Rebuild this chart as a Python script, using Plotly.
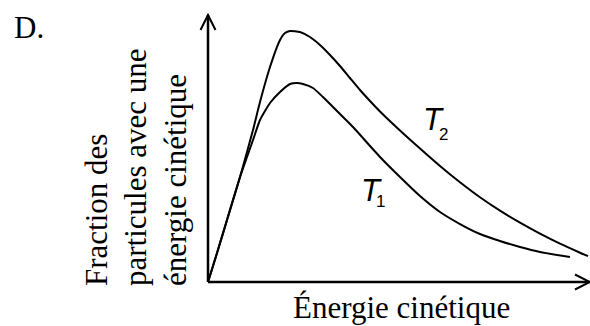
import plotly.graph_objects as go

# Kinetic energy (arbitrary units) and fraction of particles (arbitrary units)
energy_T2 = [0, 0.236, 0.497, 0.838, 1.178, 1.361, 1.623, 1.885, 2.016, 2.147, 2.408,
             2.670, 2.932, 3.194, 3.455, 3.717, 3.979, 4.241, 4.503, 5.026, 5.550,
             6.073, 6.597, 7.120, 7.644, 8.168, 8.691, 9.215, 9.738, 9.948]
frac_T2 = [0, 1.086, 2.322, 3.933, 5.693, 6.742, 8.052, 9.064, 9.326, 9.401, 9.363,
           9.176, 8.876, 8.502, 8.090, 7.640, 7.191, 6.779, 6.386, 5.674, 4.999,
           4.345, 3.734, 3.172, 2.670, 2.221, 1.809, 1.434, 1.097, 0.970]

energy_T1 = [0, 0.236, 0.497, 0.838, 1.021, 1.178, 1.361, 1.623, 1.885, 2.147, 2.330,
             2.487, 2.749, 3.010, 3.272, 3.534, 3.796, 4.503, 5.026, 5.550, 6.073,
             6.597, 7.120, 7.644, 8.168, 8.691, 9.476]
frac_T1 = [0, 1.086, 2.322, 3.933, 4.682, 5.318, 6.067, 6.704, 7.116, 7.416, 7.453,
           7.416, 7.266, 6.929, 6.554, 6.180, 5.805, 4.682, 3.933, 3.221, 2.622,
           2.172, 1.798, 1.536, 1.311, 1.124, 0.936]

x_title = "Énergie cinétique"
y_title_lines = ["Fraction des", "particules avec une", "énergie cinétique"]
panel_label = "D."

W, H = 590, 326
ML, MR, MT, MB = 208, 0, 15, 44
PW, PH = W - ML - MR, H - MT - MB


def px(xp):
    return (xp - ML) / PW


def py(yp):
    return (H - MB - yp) / PH


SERIF = "Liberation Serif"
SANS = "Liberation Sans"

fig = go.Figure()
for xs, ys in [(energy_T2, frac_T2), (energy_T1, frac_T1)]:
    fig.add_trace(go.Scatter(x=xs, y=ys, mode="lines",
                             line=dict(color="black", width=2, shape="spline", smoothing=0.5),
                             cliponaxis=False, showlegend=False, hoverinfo="skip"))

shapes = [
    dict(type="line", xref="paper", yref="paper", x0=0, y0=0, x1=1, y1=0,
         line=dict(color="black", width=2.5)),
    dict(type="line", xref="paper", yref="paper", x0=0, y0=0, x1=0, y1=1,
         line=dict(color="black", width=2.5)),
    # arrow chevrons
    dict(type="path", xref="paper", yref="paper", xsizemode="pixel", ysizemode="pixel",
         xanchor=0, yanchor=1, path="M -7.5,-15 L 0,0 L 7.5,-15",
         line=dict(color="black", width=2)),
    dict(type="path", xref="paper", yref="paper", xsizemode="pixel", ysizemode="pixel",
         xanchor=1, yanchor=0, path="M -15,7.5 L 0,0 L -15,-7.5",
         line=dict(color="black", width=2)),
]

ann = []
ann.append(dict(text=panel_label, x=px(12), y=py(27), xref="paper", yref="paper",
                xanchor="left", yanchor="middle", showarrow=False,
                font=dict(family=SERIF, size=31, color="black")))
ann.append(dict(text=x_title, x=px(401), y=py(307), xref="paper", yref="paper",
                xanchor="center", yanchor="middle", showarrow=False,
                font=dict(family=SERIF, size=31, color="black")))
for t, cx in zip(y_title_lines, [96, 135, 175]):
    ann.append(dict(text=t, x=px(cx), y=py(288), xref="paper", yref="paper",
                    xanchor="center", yanchor="bottom", textangle=-90, showarrow=False,
                    font=dict(family=SERIF, size=31, color="black")))
# curve labels
for tx, ty, sx, sy, sub in [(433, 120, 443, 134, "2"), (371, 190, 380, 202, "1")]:
    ann.append(dict(text="<i>T</i>", x=px(tx), y=py(ty), xref="paper", yref="paper",
                    xanchor="center", yanchor="middle", showarrow=False,
                    font=dict(family=SANS, size=31, color="black")))
    ann.append(dict(text=sub, x=px(sx), y=py(sy), xref="paper", yref="paper",
                    xanchor="center", yanchor="middle", showarrow=False,
                    font=dict(family=SANS, size=17, color="black")))

fig.update_layout(
    width=W, height=H, autosize=False,
    margin=dict(l=ML, r=MR, t=MT, b=MB, pad=0),
    paper_bgcolor="white", plot_bgcolor="white",
    xaxis=dict(range=[0, 10], visible=False, fixedrange=True),
    yaxis=dict(range=[0, 10], visible=False, fixedrange=True),
    shapes=shapes, annotations=ann, showlegend=False,
)

fig.write_html("out.html", config={"displayModeBar": False},
               post_script="document.body.style.margin='0';document.body.style.overflow='hidden';")
